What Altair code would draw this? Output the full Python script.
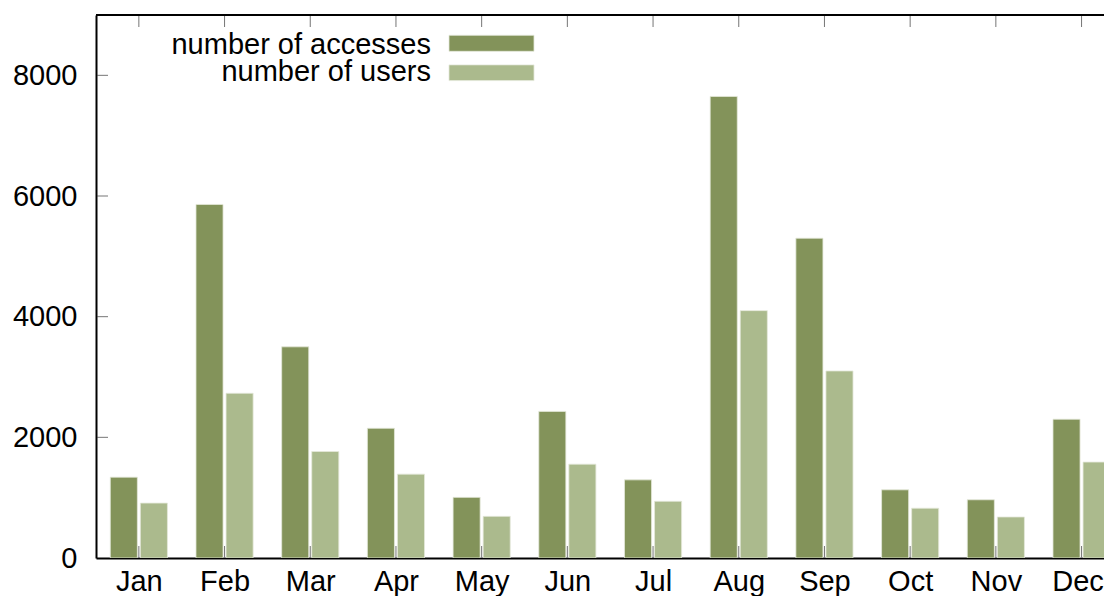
import altair as alt
import pandas as pd

# ---- data ----
months = ["Jan", "Feb", "Mar", "Apr", "May", "Jun", "Jul", "Aug", "Sep", "Oct", "Nov", "Dec"]
accesses = [1340, 5860, 3500, 2150, 1005, 2430, 1295, 7650, 5300, 1130, 965, 2300]
users = [910, 2730, 1765, 1390, 690, 1555, 940, 4100, 3100, 825, 680, 1590]
series = ["number of accesses", "number of users"]
colors = ["#83935a", "#abba8d"]
y_ticks = [0, 2000, 4000, 6000, 8000]

# ---- layout ----
W, H = 1008, 543
UNIT = 85.7
FONT = "Liberation Sans"
FS = 29
TICK = 11
TICK_COLOR = "#3a3a3a"
x_scale = alt.Scale(domain=[-0.5, -0.5 + W / UNIT], nice=False, zero=False)
y_scale = alt.Scale(domain=[0, 9000], nice=False, zero=True)
last = len(months) - 1

x_axis = alt.Axis(
    values=list(range(len(months))),
    labelExpr="[" + ",".join(f"'{m}'" for m in months) + "][datum.value]",
    labelOffset={"expr": f"datum.value == {last} ? -4 : 0"},
    title=None,
    grid=False,
    ticks=False,
    tickSize=0,
    domainColor="black",
    domainWidth=2,
    labelFont=FONT,
    labelFontSize=FS,
    labelColor="black",
    labelPadding=32,
    labelBaseline="alphabetic",
)
y_axis = alt.Axis(
    values=y_ticks,
    title=None,
    grid=False,
    ticks=False,
    tickSize=0,
    domainColor="black",
    domainWidth=2,
    labelFont=FONT,
    labelFontSize=FS,
    labelColor="black",
    labelPadding=19,
    format="d",
)

rows = []
for i, m in enumerate(months):
    rows.append({"idx": i, "month": m, "series": series[0], "value": accesses[i]})
    rows.append({"idx": i, "month": m, "series": series[1], "value": users[i]})
df = pd.DataFrame(rows)

bars = (
    alt.Chart(df)
    .transform_calculate(
        x0=f"datum.series == '{series[0]}' ? datum.idx - 0.3333 : datum.idx + 0.0175",
        x1=f"datum.series == '{series[0]}' ? datum.idx - 0.0175 : datum.idx + 0.3333",
        base="0",
    )
    .mark_bar(clip=True, stroke="#e4e9da", strokeWidth=0.8)
    .encode(
        x=alt.X("x0:Q", scale=x_scale, axis=x_axis),
        x2="x1:Q",
        y=alt.Y("value:Q", scale=y_scale, axis=y_axis),
        y2="base:Q",
        color=alt.Color("series:N", scale=alt.Scale(domain=series, range=colors), legend=None),
    )
)

# inward tick marks (gnuplot style)
yt = pd.DataFrame({"tv": y_ticks[1:]})
ytick_marks = alt.Chart(yt).mark_tick(color=TICK_COLOR, thickness=1, size=TICK, orient="horizontal").encode(
    y=alt.Y("tv:Q", scale=y_scale),
    x=alt.value(TICK / 2 + 1),
)

xt = pd.DataFrame({"tx": list(range(len(months)))})
xtick_bottom = alt.Chart(xt).mark_tick(color=TICK_COLOR, thickness=1, size=TICK, orient="vertical").encode(
    x=alt.X("tx:Q", scale=x_scale),
    y=alt.value(H - TICK / 2 - 1),
)
xtick_top = alt.Chart(xt).mark_tick(color=TICK_COLOR, thickness=1, size=TICK, orient="vertical").encode(
    x=alt.X("tx:Q", scale=x_scale),
    y=alt.value(TICK / 2 + 1),
)

one = pd.DataFrame({"k": [0]})
top_border = alt.Chart(one).mark_rule(color="black", strokeWidth=2).encode(
    x=alt.value(0), x2=alt.value(W), y=alt.value(0)
)

# legend (label left of swatch, as in gnuplot)
leg_layers = []
leg_text_y = [39, 66.3]
leg_rect_y = [(20.3, 36.3), (49.9, 65.6)]
for k in range(2):
    leg_layers.append(
        alt.Chart(one)
        .mark_text(align="right", baseline="alphabetic", font=FONT, fontSize=FS, color="black")
        .encode(x=alt.value(335), y=alt.value(leg_text_y[k]), text=alt.value(series[k]))
    )
    leg_layers.append(
        alt.Chart(one)
        .mark_rect(color=colors[k], stroke="#e4e9da", strokeWidth=0.8)
        .encode(
            x=alt.value(353),
            x2=alt.value(438),
            y=alt.value(leg_rect_y[k][0]),
            y2=alt.value(leg_rect_y[k][1]),
        )
    )

chart = (
    alt.layer(bars, ytick_marks, xtick_bottom, xtick_top, top_border, *leg_layers)
    .properties(
        width=W,
        height=H,
        padding={"left": 88, "top": 7, "right": 0, "bottom": 38},
        autosize=alt.AutoSizeParams(type="none"),
        background="white",
    )
    .configure_view(strokeWidth=0)
)

chart.save("out.html", embed_options={"renderer": "svg", "actions": False})
